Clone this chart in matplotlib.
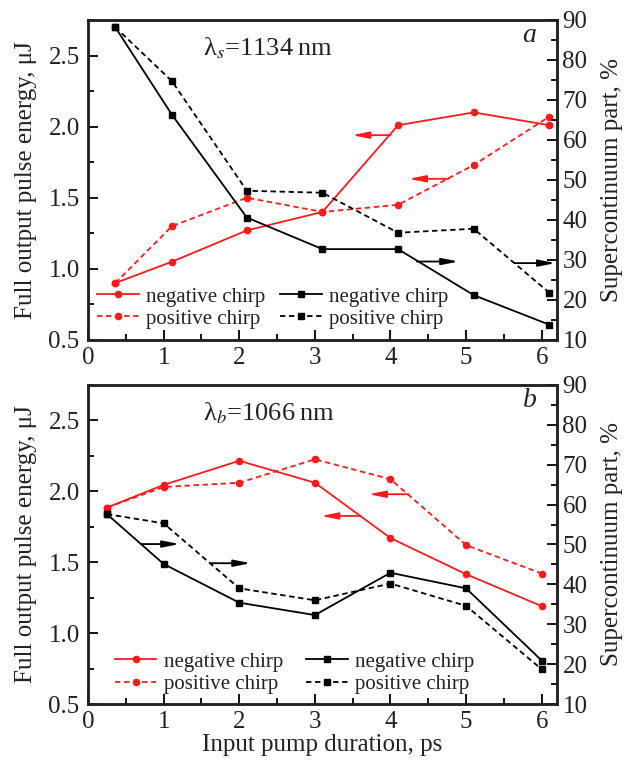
import numpy as np
from matplotlib import pyplot as plt
from matplotlib.ticker import MultipleLocator

plt.rcParams['font.family'] = ['Liberation Serif', 'DejaVu Serif']
plt.rcParams['mathtext.fontset'] = 'stix'

# panel a (lambda_s = 1134 nm)
xa = [0.36, 1.11, 2.1, 3.1, 4.1, 5.1, 6.1]
ea_neg = [0.90, 1.05, 1.27, 1.40, 2.01, 2.10, 2.01]   # uJ
ea_pos = [0.90, 1.30, 1.50, 1.40, 1.45, 1.73, 2.07]
sa_neg = [88.2, 66.3, 40.6, 32.7, 32.7, 21.2, 13.8]   # %
sa_pos = [88.2, 74.7, 47.3, 46.8, 36.8, 37.8, 21.8]

# panel b (lambda_b = 1066 nm)
xb = [0.25, 1, 2, 3, 4, 5, 6]
eb_neg = [1.885, 2.045, 2.215, 2.06, 1.67, 1.415, 1.19]
eb_pos = [1.885, 2.03, 2.06, 2.225, 2.085, 1.62, 1.42]
sb_neg = [57.6, 45.1, 35.4, 32.3, 42.9, 39.0, 20.9]
sb_pos = [57.6, 55.3, 39.0, 36.0, 40.2, 34.6, 18.7]

labels = ["negative chirp", "positive chirp", "negative chirp", "positive chirp"]
RED = '#ff1a1a'
TXT = '#222222'

def setup(ax, ax2):
    ax.set_xlim(0, 6.2)
    ax.set_ylim(0.5, 2.75)
    ax2.set_ylim(10, 90)
    ax.xaxis.set_major_locator(MultipleLocator(1))
    ax.xaxis.set_minor_locator(MultipleLocator(0.5))
    ax.yaxis.set_major_locator(MultipleLocator(0.5))
    ax.yaxis.set_minor_locator(MultipleLocator(0.25))
    ax2.yaxis.set_major_locator(MultipleLocator(10))
    ax2.yaxis.set_minor_locator(MultipleLocator(5))
    ax.yaxis.set_major_formatter(lambda v, p: f"{v:.1f}")
    for a in (ax, ax2):
        a.tick_params(which='major', direction='in', length=7, width=1.3,
                      labelsize=18, labelcolor=TXT, pad=4)
        a.tick_params(which='minor', direction='in', length=4, width=1.3)
        for s in a.spines.values():
            s.set_linewidth(1.8)
            s.set_color('#222222')
    ax.tick_params(axis='y', which='major', pad=6)
    ax.tick_params(axis='x', which='major', pad=5)
    ax.tick_params(top=False, right=False, which='both')
    ax.set_ylabel("Full output pulse energy, \u03bcJ", fontsize=18, labelpad=8, color=TXT)
    ax2.set_ylabel("Supercontinuum part, %", fontsize=18, labelpad=10, color=TXT)

def panel(ax, x, e_neg, e_pos, s_neg, s_pos, legpos, colsp):
    ax2 = ax.twinx()
    l1, = ax.plot(x, e_neg, '-', color=RED, marker='o', ms=4.5, lw=1.3)
    l2, = ax.plot(x, e_pos, '--', color=RED, marker='o', ms=4.5, lw=1.3, dashes=(3, 2))
    l3, = ax2.plot(x, s_neg, '-', color='black', marker='s', ms=4.5, lw=1.3)
    l4, = ax2.plot(x, s_pos, '--', color='black', marker='s', ms=4.5, lw=1.3, dashes=(3, 2))
    setup(ax, ax2)
    leg = ax.legend([l1, l2, l3, l4], labels,
                    ncol=2, loc='lower left', bbox_to_anchor=legpos, frameon=False,
                    fontsize=15, handlelength=2.0, handletextpad=0.35,
                    columnspacing=colsp, labelspacing=0.12,
                    borderpad=0, borderaxespad=0)
    for t in leg.get_texts():
        t.set_color(TXT)
    return ax2

def arrow(ax, x0, x1, y, color):
    ax.annotate("", xy=(x1, y), xytext=(x0, y),
                arrowprops=dict(arrowstyle='-|>,head_length=1.0,head_width=0.2',
                                color=color, lw=1.3, shrinkA=0, shrinkB=0))

fig = plt.figure(figsize=(6.31, 7.69), dpi=100)
axa = fig.add_axes([0.1395, 0.558, 0.743, 0.416])
axb = fig.add_axes([0.1395, 0.0845, 0.743, 0.415])

axa2 = panel(axa, xa, ea_neg, ea_pos, sa_neg, sa_pos, (0.02, 0.035), 0.7)
axb2 = panel(axb, xb, eb_neg, eb_pos, sb_neg, sb_pos, (0.057, 0.032), 1.1)

# panel a annotations
arrow(axa, 4.0, 3.49, 1.94, RED)
arrow(axa, 4.77, 4.24, 1.633, RED)
arrow(axa2, 4.35, 4.90, 29.6, 'black')
arrow(axa2, 5.65, 6.18, 29.2, 'black')
axa.text(1.52, 2.55, "\u03bb$_s$=1134\u2009nm", fontsize=19, va='center', ha='left', color=TXT)
axa.text(5.93, 2.64, "a", fontsize=20, style='italic', va='center', ha='right', color=TXT)

# panel b annotations
arrow(axb, 4.24, 3.71, 1.979, RED)
arrow(axb, 3.60, 3.08, 1.826, RED)
arrow(axb2, 0.70, 1.21, 50.1, 'black')
arrow(axb2, 1.63, 2.15, 45.3, 'black')
axb.text(1.52, 2.55, "\u03bb$_b$=1066\u2009nm", fontsize=19, va='center', ha='left', color=TXT)
axb.text(5.93, 2.64, "b", fontsize=20, style='italic', va='center', ha='right', color=TXT)

axb.set_xlabel("Input pump duration, ps", fontsize=18, labelpad=1, color=TXT)

fig.savefig("out.png", dpi=100)
